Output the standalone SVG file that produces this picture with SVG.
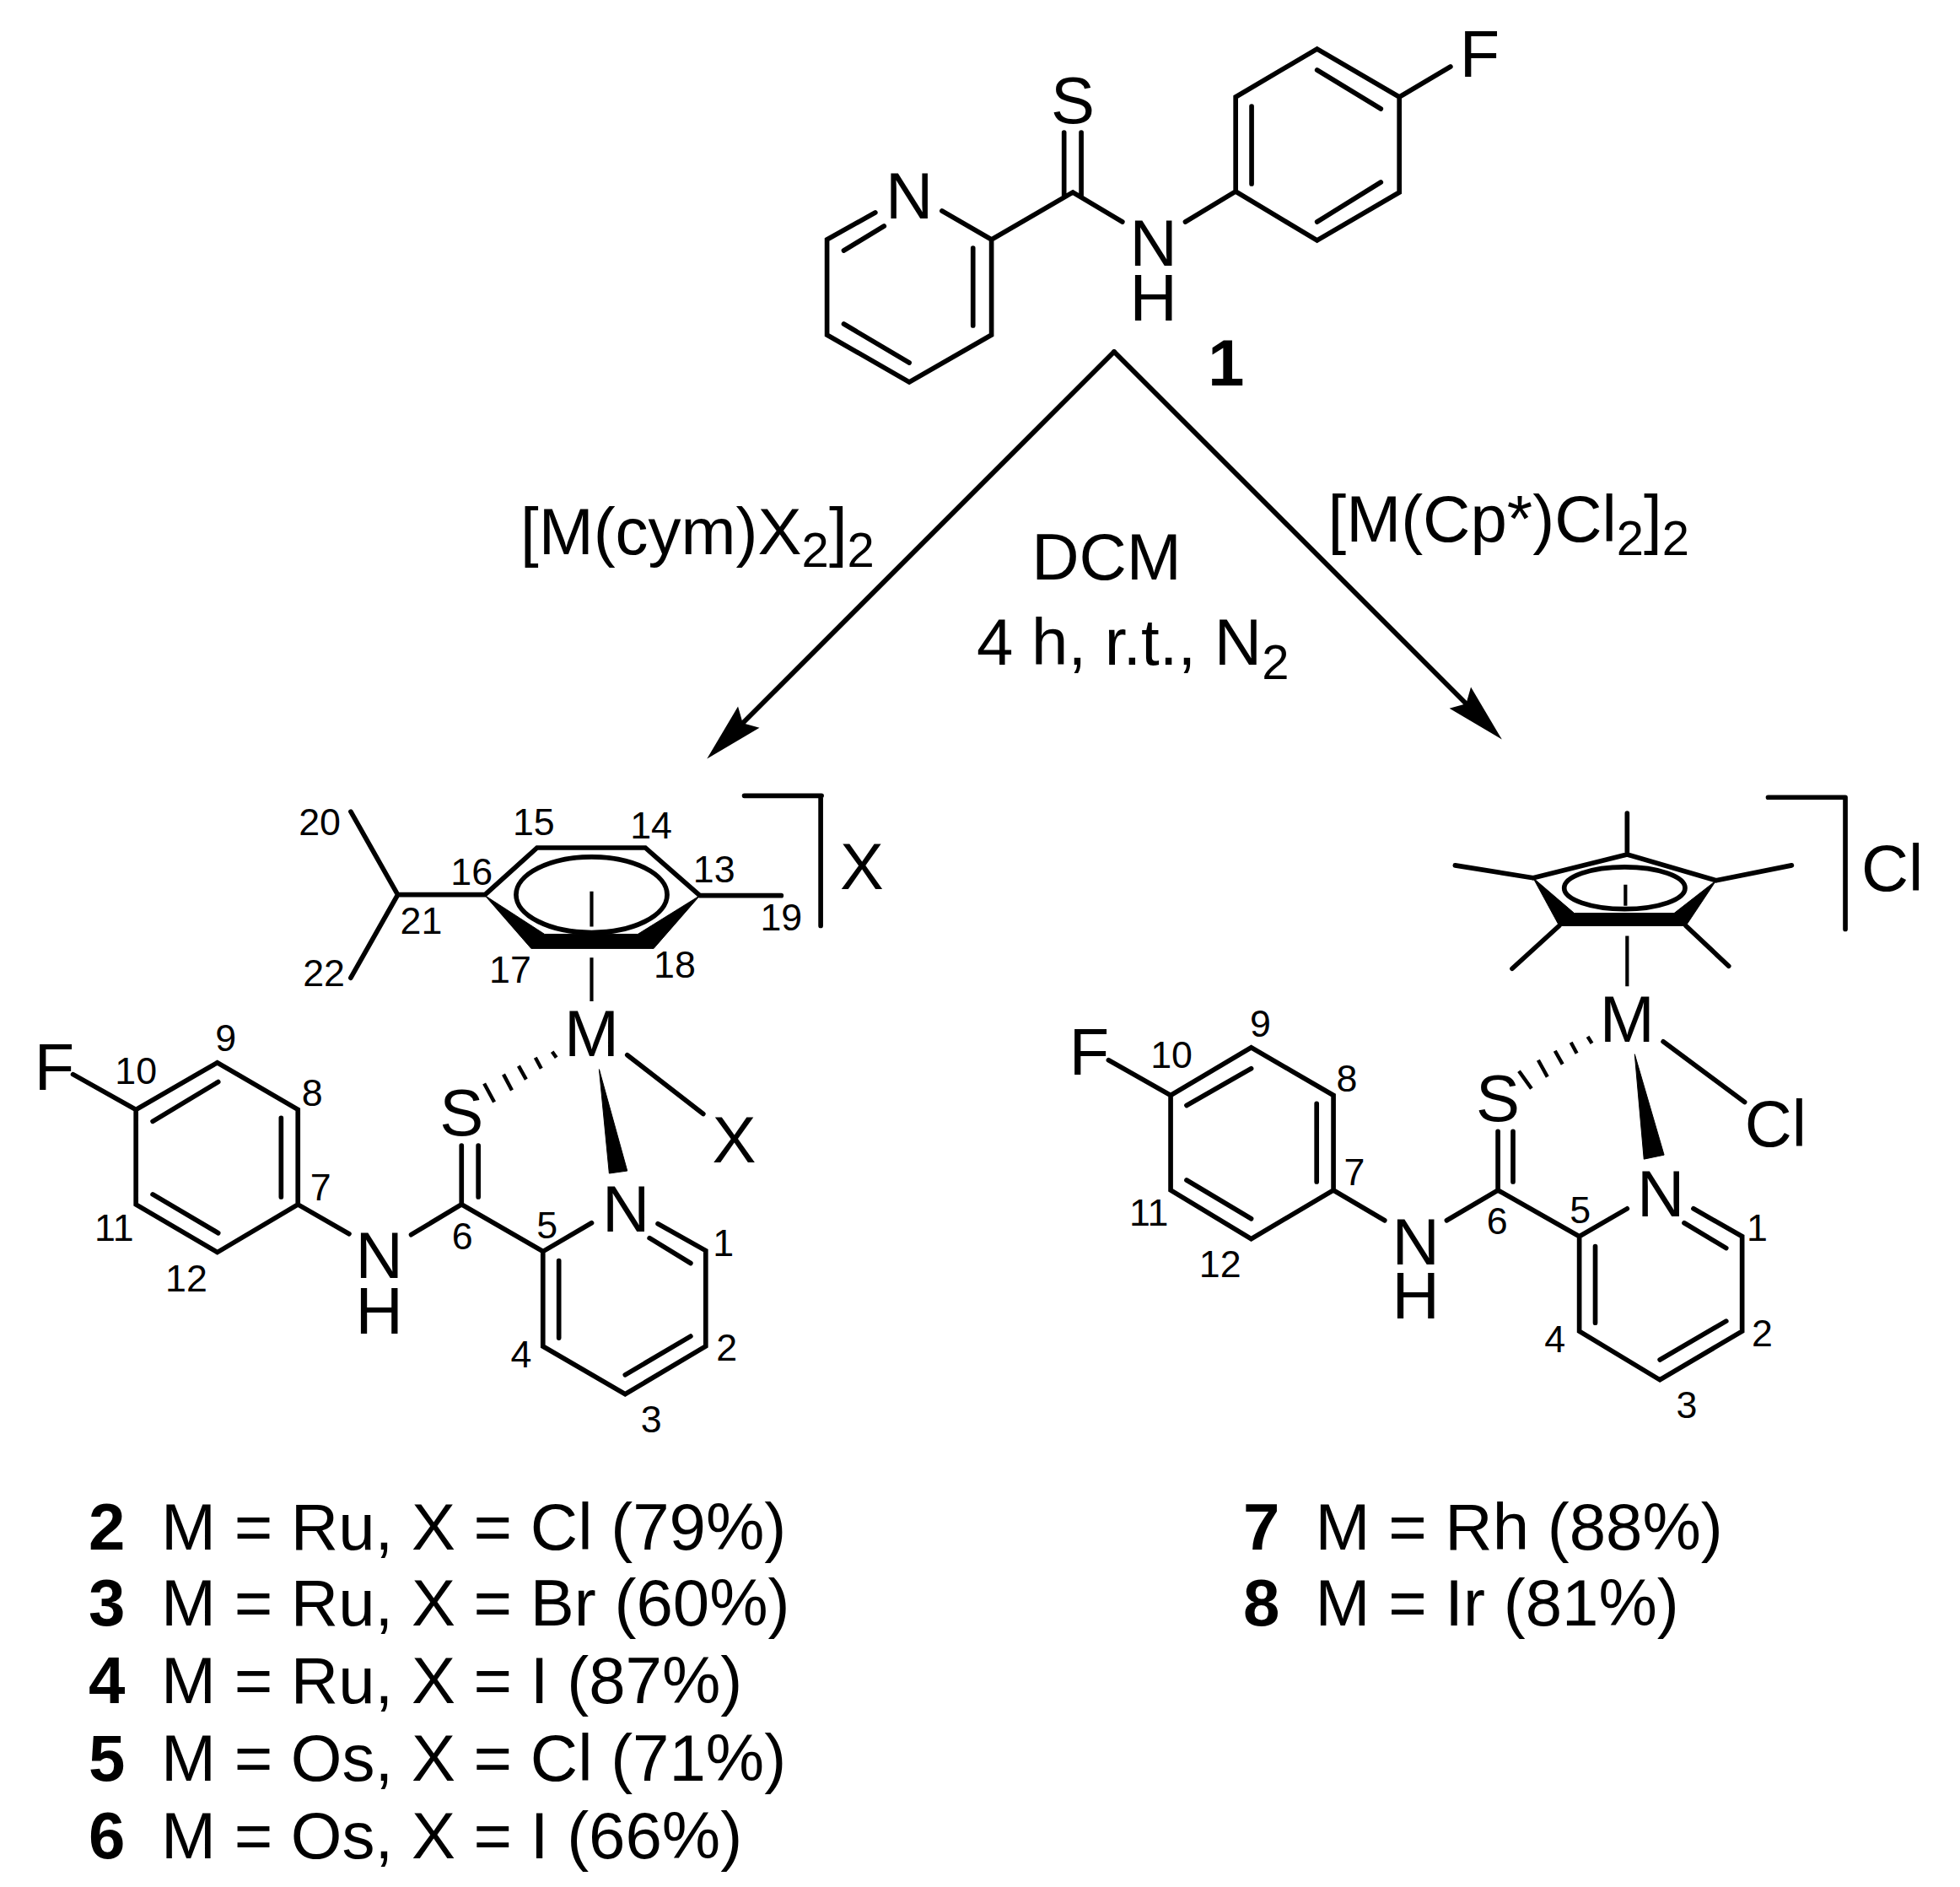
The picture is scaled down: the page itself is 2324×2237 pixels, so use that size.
<svg xmlns="http://www.w3.org/2000/svg" width="2324" height="2237" viewBox="0 0 2324 2237">
<defs>
<style>
text{font-family:"Liberation Sans",Arial,sans-serif;fill:#000}
.a{font-size:78.4px;text-anchor:middle}
.n{font-size:45px;text-anchor:middle}
.t{font-size:78px}
.b{font-size:78px;font-weight:bold}
.s{font-size:58px}
.bond{fill:none;stroke:#000;stroke-width:5.7;stroke-linecap:round;stroke-linejoin:miter}
.thin{fill:none;stroke:#000;stroke-width:4.2;stroke-linecap:butt}
.hash{fill:none;stroke:#000;stroke-width:4.4}
.solid{fill:#000;stroke:#000;stroke-width:1}
.arrow{fill:none;stroke:#000;stroke-width:5.8;stroke-linecap:round}
</style>
<marker id="head" markerUnits="userSpaceOnUse" markerWidth="72" markerHeight="40" viewBox="0 0 72 40" refX="10" refY="20" orient="auto" overflow="visible">
<path d="M70 20L0 2L10 20L0 38Z" fill="#000"/>
</marker>
</defs>
<rect width="2324" height="2237" fill="#fff"/>

<g id="connectors">
<path class="arrow" d="M1321 417L880.7 857.2" marker-end="url(#head)"/>
<path class="arrow" d="M1321 417L1738.4 834.2" marker-end="url(#head)"/>
</g>

<g id="compound-1" transform="matrix(.995 0 0 1 4.5 0)">
<path class="bond" d="M1038.5 252L981 284V397L1079 453L1177 397V284L1118 250M1001 297L1049 268M1155 294V386M1001 384L1079 430M1177 284L1274 228L1333 263M1263.5 157V233M1284 157V233M1408 263L1468 227V115L1565 58L1663 115V228L1565 285L1468 227M1487 126V218M1565 83L1641 129M1641 216L1565 263M1663 115L1724 79"/>
<text class="a" x="1079" y="259">N</text>
<text class="a" x="1274" y="146">S</text>
<text class="a" x="1370" y="315">N</text>
<text class="a" x="1370" y="380">H</text>
<text class="t" x="1735" y="91">F</text>
<text class="b" x="1435" y="457">1</text>
</g>

<g id="reagents">
<text class="t" x="617" y="657">[M(cym)X<tspan class="s" dy="15">2</tspan><tspan dy="-15">]</tspan><tspan class="s" dy="15">2</tspan></text>
<text class="t" x="1312" y="687" text-anchor="middle">DCM</text>
<text class="t" x="1158" y="788">4 h, r.t., N<tspan class="s" dy="17">2</tspan></text>
<text class="t" x="1574.5" y="642">[M(Cp*)Cl<tspan class="s" dy="16">2</tspan><tspan dy="-16">]</tspan><tspan class="s" dy="16">2</tspan></text>
</g>

<g id="complex-cymene" transform="matrix(.995 0 0 .995 0 6)">
<path class="bond" d="M418 961L474 1060L418 1159M474 1060H578L640 1004H769L834 1061H931M87 1274L162 1316L259 1260L355 1316V1429L259 1486L162 1429V1316M182 1330L260 1283M335 1326V1420M182 1417L260 1463M355 1429L416 1464M490 1465L550 1429L647 1485L705 1451M550 1359V1429M570 1359V1420M784 1452L841 1484V1598L745 1655L647 1598V1485M774 1469L823 1499M666 1496V1588M823 1586L745 1632M747.5 1251L838 1321M887 942H979M978 942V1097"/>
<path class="solid" d="M578 1061L633 1124H779L834 1061L760 1107H649Z"/>
<ellipse class="bond" cx="705" cy="1060" rx="90" ry="45"/>
<path class="thin" d="M705 1056V1098M705 1135V1187"/>
<path class="hash" d="M658 1247L663 1254M638 1254L645 1267M618 1264L627 1280M600 1274L610 1293M577 1285L589 1307"/>
<path class="solid" d="M714 1268L726 1392L747.5 1389Z"/>
<text class="a" x="705" y="1252">M</text>
<text class="a" x="875" y="1379">X</text>
<text class="t" x="1001" y="1053">X</text>
<text class="a" x="550" y="1347">S</text>
<text class="a" x="452" y="1517">N</text>
<text class="a" x="452" y="1583">H</text>
<text class="a" x="746" y="1461">N</text>
<text class="t" x="41" y="1292">F</text>
<g class="numbers">
<text class="n" x="862" y="1490">1</text><text class="n" x="866" y="1615">2</text><text class="n" x="776" y="1700">3</text><text class="n" x="621" y="1623">4</text><text class="n" x="652" y="1469">5</text><text class="n" x="551" y="1482">6</text><text class="n" x="382" y="1424">7</text><text class="n" x="372" y="1312">8</text><text class="n" x="269" y="1246">9</text><text class="n" x="162" y="1285">10</text><text class="n" x="136" y="1472">11</text><text class="n" x="222" y="1533">12</text><text class="n" x="851" y="1045">13</text><text class="n" x="776" y="993">14</text><text class="n" x="636" y="989">15</text><text class="n" x="562" y="1048">16</text><text class="n" x="608" y="1165">17</text><text class="n" x="804" y="1159">18</text><text class="n" x="931" y="1103">19</text><text class="n" x="381" y="989">20</text><text class="n" x="502" y="1107">21</text><text class="n" x="386" y="1169">22</text>
</g>
</g>

<g id="complex-cp" transform="matrix(.995 0 0 .995 6 6)">
<path class="bond" d="M1821 1040L1933 1012L2039 1043M1933 963V1012M2129 1025L2039 1043M1728 1025L1821 1040M1796 1148L1852 1097M2054 1145L2003 1097M1315 1257L1389 1299L1485 1242L1583 1299V1412L1485 1470L1389 1412V1299M1408 1311L1485 1267M1563 1309V1402M1408 1400L1485 1446M1583 1412L1644 1448M1718 1448L1779 1412L1876 1467L1933 1434M1779 1342V1412M1797 1342V1402M2012 1434L2070 1467V1580L1972 1638L1876 1580V1467M2001 1451L2051 1481M1895 1479V1570M2051 1568L1972 1614M1976 1235L2073 1307M2101 944H2193M2193 944V1101"/>
<path class="solid" d="M1821 1040L1852 1097H2003L2039 1043L1989 1082H1870Z"/>
<ellipse class="bond" cx="1930" cy="1052" rx="72" ry="25"/>
<path class="thin" d="M1931 1048V1073M1933 1109V1169"/>
<path class="hash" d="M1886 1229L1891 1237M1866 1236L1873 1249M1847 1246L1856 1262M1827 1257L1838 1277M1804 1270L1819 1291"/>
<path class="solid" d="M1942 1250L1953 1375L1977 1370Z"/>
<text class="a" x="1933" y="1235">M</text>
<text class="t" x="2212" y="1055">Cl</text>
<text class="t" x="2073" y="1360">Cl</text>
<text class="a" x="1779" y="1330">S</text>
<text class="a" x="1681" y="1500">N</text>
<text class="a" x="1681" y="1565">H</text>
<text class="a" x="1973" y="1443">N</text>
<text class="t" x="1268" y="1274">F</text>
<g class="numbers">
<text class="n" x="2088" y="1472">1</text><text class="n" x="2094" y="1598">2</text><text class="n" x="2004" y="1683">3</text><text class="n" x="1847" y="1605">4</text><text class="n" x="1877" y="1451">5</text><text class="n" x="1778" y="1464">6</text><text class="n" x="1608" y="1406">7</text><text class="n" x="1599" y="1294">8</text><text class="n" x="1496" y="1229">9</text><text class="n" x="1390" y="1266">10</text><text class="n" x="1363" y="1454">11</text><text class="n" x="1448" y="1516">12</text>
</g>
</g>

<g id="yields-left">
<text class="b" x="105" y="1837">2</text><text class="t" x="191" y="1837">M = Ru, X = Cl (79%)</text>
<text class="b" x="105" y="1927">3</text><text class="t" x="191" y="1927">M = Ru, X = Br (60%)</text>
<text class="b" x="105" y="2019">4</text><text class="t" x="191" y="2019">M = Ru, X = I (87%)</text>
<text class="b" x="105" y="2111">5</text><text class="t" x="191" y="2111">M = Os, X = Cl (71%)</text>
<text class="b" x="105" y="2203">6</text><text class="t" x="191" y="2203">M = Os, X = I (66%)</text>
</g>
<g id="yields-right">
<text class="b" x="1474" y="1837">7</text><text class="t" x="1559.5" y="1837">M = Rh (88%)</text>
<text class="b" x="1474" y="1927">8</text><text class="t" x="1559.5" y="1927">M = Ir (81%)</text>
</g>
</svg>
